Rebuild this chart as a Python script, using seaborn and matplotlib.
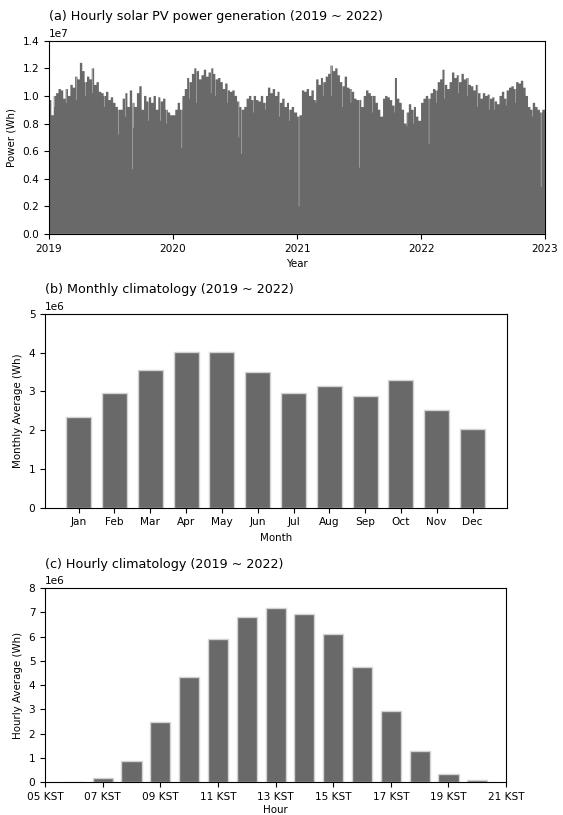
import numpy as np
import pandas as pd
import matplotlib
matplotlib.use("Agg")
import matplotlib.pyplot as plt
import matplotlib.dates as mdates
import seaborn as sns

# Weekly peak values, in units of 1e7 Wh (52 weeks per year)
weekly_2019 = [0.97, 0.86, 1.00, 1.02, 1.05, 1.04, 0.98, 1.05, 1.00, 1.08, 1.06, 1.14, 1.12,
               1.24, 1.18, 1.10, 1.14, 1.12, 1.20, 1.08, 1.10, 1.03, 1.02, 1.00, 1.03, 0.97,
               0.99, 0.95, 0.92, 0.90, 0.90, 0.98, 1.02, 0.92, 1.04, 0.95, 0.92, 1.02, 1.07,
               0.90, 1.00, 0.96, 0.99, 0.95, 1.00, 0.90, 0.99, 0.96, 0.98, 0.90, 0.88, 0.86]
weekly_2020 = [0.86, 0.90, 0.95, 0.90, 1.00, 1.05, 1.13, 1.10, 1.16, 1.20, 1.18, 1.12, 1.15,
               1.19, 1.14, 1.17, 1.20, 1.16, 1.12, 1.13, 1.10, 1.05, 1.09, 1.04, 1.03, 1.04,
               1.00, 0.96, 0.92, 0.90, 0.92, 0.98, 1.00, 0.97, 1.00, 0.97, 0.96, 1.00, 0.95,
               1.00, 1.06, 1.02, 1.05, 1.00, 1.03, 0.95, 0.98, 0.92, 0.95, 0.90, 0.92, 0.88]
weekly_2021 = [0.85, 0.86, 1.04, 1.03, 1.05, 1.00, 1.04, 0.97, 1.12, 1.08, 1.13, 1.10, 1.14,
               1.16, 1.22, 1.18, 1.20, 1.15, 1.10, 1.07, 1.14, 1.06, 1.05, 1.03, 0.98, 0.97,
               0.97, 0.92, 1.00, 1.04, 1.02, 1.00, 1.00, 0.95, 0.90, 0.85, 0.98, 1.00, 0.99,
               0.97, 0.93, 1.13, 0.98, 0.95, 0.90, 0.80, 0.88, 0.94, 0.90, 0.92, 0.85, 0.82]
weekly_2022 = [0.95, 0.98, 1.00, 0.98, 1.02, 1.05, 1.04, 1.10, 1.12, 1.19, 1.08, 1.05, 1.10,
               1.17, 1.13, 1.15, 1.10, 1.16, 1.12, 1.13, 1.08, 1.07, 1.04, 1.08, 1.02, 0.98,
               1.02, 1.00, 1.01, 0.98, 0.99, 0.96, 0.94, 1.00, 1.03, 0.98, 1.04, 1.06, 1.07,
               1.05, 1.10, 1.09, 1.11, 1.06, 1.00, 0.92, 0.90, 0.95, 0.92, 0.90, 0.88, 0.90]

# Individual cloudy days visible as light streaks (date, peak in 1e7 Wh)
low_days = {
    "2019-01-16": 0.92, "2019-02-20": 0.95, "2019-03-22": 0.97, "2019-04-18": 1.00,
    "2019-05-08": 1.02, "2019-06-12": 0.92, "2019-07-24": 0.72, "2019-08-14": 0.85,
    "2019-09-03": 0.47, "2019-09-06": 0.77, "2019-10-20": 0.82, "2019-11-25": 0.82,
    "2019-12-12": 0.80, "2020-01-27": 0.62, "2020-02-18": 0.98, "2020-03-10": 0.95,
    "2020-04-22": 1.02, "2020-05-05": 1.00, "2020-06-10": 0.95, "2020-07-13": 0.70,
    "2020-07-20": 0.58, "2020-08-25": 0.88, "2020-09-30": 0.90, "2020-11-10": 0.85,
    "2020-12-08": 0.82, "2021-01-06": 0.20, "2021-02-25": 0.95, "2021-03-18": 1.00,
    "2021-04-12": 1.00, "2021-05-15": 0.92, "2021-06-08": 0.95, "2021-07-03": 0.48,
    "2021-08-11": 0.88, "2021-09-10": 0.85, "2021-10-15": 0.88, "2021-11-20": 0.78,
    "2021-12-10": 0.80, "2022-01-24": 0.65, "2022-02-15": 0.95, "2022-03-10": 0.98,
    "2022-04-20": 1.02, "2022-05-18": 1.00, "2022-06-15": 0.92, "2022-07-20": 0.90,
    "2022-08-05": 0.90, "2022-09-08": 0.93, "2022-10-05": 0.95, "2022-11-25": 0.85,
    "2022-12-20": 0.34,
}

months = ["Jan", "Feb", "Mar", "Apr", "May", "Jun", "Jul", "Aug", "Sep", "Oct", "Nov", "Dec"]
monthly_avg = [2.35, 2.95, 3.56, 4.01, 4.01, 3.49, 2.95, 3.15, 2.89, 3.29, 2.52, 2.03]  # 1e6 Wh

hours = [6, 7, 8, 9, 10, 11, 12, 13, 14, 15, 16, 17, 18, 19, 20]
hourly_avg = [0.0, 0.15, 0.87, 2.47, 4.32, 5.88, 6.80, 7.17, 6.91, 6.11, 4.76, 2.94, 1.26, 0.33, 0.07]  # 1e6 Wh
hour_ticks = [5, 7, 9, 11, 13, 15, 17, 19, 21]

sns.set_style("ticks")
plt.rcParams['font.family'] = ['DejaVu Sans']
plt.rcParams['xtick.labelsize'] = 7.6
plt.rcParams['ytick.labelsize'] = 7.6
plt.rcParams['axes.labelsize'] = 7.4
plt.rcParams['axes.edgecolor'] = 'black'
plt.rcParams['axes.labelcolor'] = 'black'
plt.rcParams['text.color'] = 'black'
plt.rcParams['xtick.color'] = 'black'
plt.rcParams['ytick.color'] = 'black'

BAR = 'dimgray'
TITLE_SIZE = 9.2

fig = plt.figure(figsize=(5.63, 8.15), dpi=100)
ax1 = fig.add_axes([0.087, 0.713, 0.881, 0.237])
ax2 = fig.add_axes([0.080, 0.377, 0.821, 0.238])
ax3 = fig.add_axes([0.080, 0.0405, 0.819, 0.238])

# (a) daily peaks from weekly values plus the individual low days
days = pd.date_range("2019-01-01", "2022-12-31", freq="D")
weekly = {2019: weekly_2019, 2020: weekly_2020, 2021: weekly_2021, 2022: weekly_2022}
peak = np.array([weekly[d.year][min((d.dayofyear - 1) // 7, 51)] for d in days])
series = pd.Series(peak, index=days)
for d, v in low_days.items():
    series[pd.Timestamp(d)] = v
# one filled step outline, so the dense daily bars don't leave antialiasing seams
edges = pd.date_range("2019-01-01", "2023-01-01", freq="D")
ax1.stairs(series.values * 1e7, mdates.date2num(edges), baseline=0, fill=True,
           color=BAR, linewidth=0)
ax1.set_xlim(pd.Timestamp("2019-01-01"), pd.Timestamp("2023-01-01"))
ax1.set_ylim(0, 1.4e7)
ax1.xaxis.set_major_locator(mdates.YearLocator())
ax1.xaxis.set_major_formatter(mdates.DateFormatter("%Y"))
ax1.set_xlabel("Year")
ax1.set_ylabel("Power (Wh)")
ax1.set_title("(a) Hourly solar PV power generation (2019 ~ 2022)", loc="left", fontsize=TITLE_SIZE)

# (b) monthly climatology
sns.barplot(x=months, y=np.array(monthly_avg) * 1e6, color=BAR, saturation=1, width=0.7,
            edgecolor='lightgray', linewidth=1, ax=ax2)
ax2.set_xlim(-0.94, 11.97)
ax2.set_ylim(0, 5e6)
ax2.set_xlabel("Month")
ax2.set_ylabel("Monthly Average (Wh)")
ax2.set_title("(b) Monthly climatology (2019 ~ 2022)", loc="left", fontsize=TITLE_SIZE)

# (c) hourly climatology
sns.barplot(x=hours, y=np.array(hourly_avg) * 1e6, native_scale=True, color=BAR, saturation=1,
            width=0.7, edgecolor='lightgray', linewidth=1, ax=ax3)
ax3.set_xlim(5, 21)
ax3.set_ylim(0, 8e6)
ax3.set_xticks(hour_ticks)
ax3.set_xticklabels([f"{h:02d} KST" for h in hour_ticks])
ax3.set_xlabel("Hour", labelpad=2.5)
ax3.set_ylabel("Hourly Average (Wh)")
ax3.set_title("(c) Hourly climatology (2019 ~ 2022)", loc="left", fontsize=TITLE_SIZE)

for ax in (ax1, ax2, ax3):
    for s in ax.spines.values():
        s.set_visible(True)
        s.set_linewidth(0.8)

fig.savefig("out.png", dpi=100)
